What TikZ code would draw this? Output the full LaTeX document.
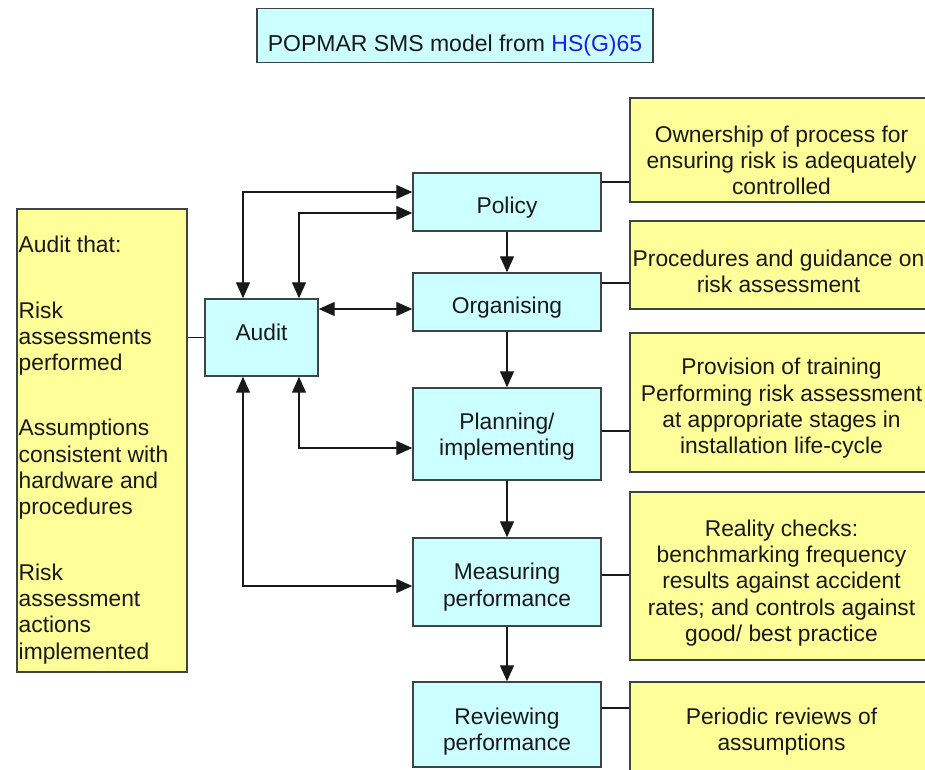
\documentclass[tikz,border=0pt]{standalone}
\usepackage{fontspec}
\setmainfont{Liberation Sans}
\usetikzlibrary{arrows.meta,calc}
\definecolor{cyanfill}{HTML}{CCFFFF}
\definecolor{yelfill}{HTML}{FFFF99}
\definecolor{edge}{RGB}{60,68,68}
\definecolor{hsblue}{RGB}{30,30,230}
\definecolor{ink}{RGB}{25,25,25}
\begin{document}
\begin{tikzpicture}[x=1pt,y=-1pt,
  bluebox/.style={draw=edge,line width=1.4pt,fill=cyanfill,minimum width=188pt,inner sep=0pt},
  yelbox/.style={draw=edge,line width=1.4pt,fill=yelfill,inner sep=0pt},
  txt/.style={font=\fontsize{22.8}{26.3}\selectfont,text=ink,align=center,inner sep=0pt},
  ltxt/.style={font=\fontsize{22.8}{26.3}\selectfont,text=ink,align=left,inner sep=0pt},
  conn/.style={draw=ink,line width=1.2pt},
  arr/.style={conn,-{Triangle[length=16pt,width=14pt]}},
  darr/.style={conn,{Triangle[length=16pt,width=14pt]}-{Triangle[length=16pt,width=14pt]}}]
\useasboundingbox (0,0) rectangle (925,769);
\clip (0,0) rectangle (925,769);
\fill[white] (0,0) rectangle (925,769);

% title
\node[draw=edge,line width=1.4pt,fill=cyanfill,minimum width=396pt,minimum height=54pt,inner sep=0pt] (title) at (455,35.5) {};
\node[txt,font=\fontsize{23}{27}\selectfont] (titleT) at (455,46) {POPMAR SMS model from \textcolor{hsblue}{HS(G)65}};

% blue boxes
\node[bluebox,minimum height=58pt] (policy) at (507,202) {};
\node[bluebox,minimum height=58pt] (organising) at (507,302) {};
\node[bluebox,minimum height=92pt] (planning) at (507,434) {};
\node[bluebox,minimum height=88pt] (measuring) at (507,582) {};
\node[bluebox,minimum height=85pt] (reviewing) at (507,724.5) {};
\node[bluebox,minimum width=113pt,minimum height=77pt] (audit) at (261.5,337.5) {};

\node[txt] (policyT) at (507,208) {Policy};
\node[txt] (organisingT) at (507,308) {Organising};
\node[txt] (planningT) at (507,436.5) {Planning/\\implementing};
\node[txt] (measuringT) at (507,587) {Measuring\\performance};
\node[txt] (reviewingT) at (507,731.5) {Reviewing\\performance};
\node[txt] (auditT) at (261.5,332) {Audit};

% yellow boxes
\node[yelbox,minimum width=170pt,minimum height=463pt] (left) at (102,440.5) {};
\node[yelbox,minimum width=303pt,minimum height=104pt] (r1) at (781.5,150) {};
\node[yelbox,minimum width=303pt,minimum height=88pt] (r2) at (781.5,265) {};
\node[yelbox,minimum width=303pt,minimum height=139pt] (r3) at (781.5,402.5) {};
\node[yelbox,minimum width=303pt,minimum height=168pt] (r4) at (781.5,576) {};
\node[yelbox,minimum width=303pt,minimum height=96pt] (r5) at (781.5,730) {};

\node[ltxt,anchor=west] (leftT) at (18.5,450) {Audit that:\\[39pt]Risk\\assessments\\performed\\[39pt]Assumptions\\consistent with\\hardware and\\procedures\\[39pt]Risk\\assessment\\actions\\implemented};
\node[txt] (r1T) at (781.5,160.5) {Ownership of process for\\ensuring risk is adequately\\controlled};
\node[txt] (r2T) at (778.5,271) {Procedures and guidance on\\risk assessment};
\node[txt] (r3T) at (781.5,408.5) {Provision of training\\Performing risk assessment\\at appropriate stages in\\installation life-cycle};
\node[txt] (r4T) at (781.5,583) {Reality checks:\\benchmarking frequency\\results against accident\\rates; and controls against\\good/ best practice};
\node[txt] (r5T) at (781.5,731.5) {Periodic reviews of\\assumptions};

% plain side connectors
\coordinate (p1) at ($(policy.east)+(0,-20)$);
\draw[conn] (p1) -- (r1.west |- p1);
\coordinate (p2) at ($(organising.east)+(0,-19)$);
\draw[conn] (p2) -- (r2.west |- p2);
\coordinate (p3) at ($(planning.east)+(0,-3)$);
\draw[conn] (p3) -- (r3.west |- p3);
\coordinate (p4) at ($(measuring.east)+(0,-7)$);
\draw[conn] (p4) -- (r4.west |- p4);
\coordinate (p5) at ($(reviewing.east)+(0,-16.5)$);
\draw[conn] (p5) -- (r5.west |- p5);
\draw[conn] (left.east |- audit.west) -- (audit.west);

% vertical flow arrows
\draw[arr] (policy.south) -- (organising.north);
\draw[arr] (organising.south) -- (planning.north);
\draw[arr] (planning.south) -- (measuring.north);
\draw[arr] (measuring.south) -- (reviewing.north);

% audit feedback arrows
\coordinate (a1) at ($(policy.west)+(0,-10)$);
\draw[darr] ($(audit.north)+(-18.5,0)$) |- (a1);
\coordinate (a2) at ($(policy.west)+(0,11)$);
\draw[darr] ($(audit.north)+(37.5,0)$) |- (a2);
\coordinate (a3) at ($(organising.west)+(0,7)$);
\draw[darr] (audit.east |- a3) -- (a3);
\coordinate (a4) at ($(planning.west)+(0,14)$);
\draw[darr] ($(audit.south)+(37.5,0)$) |- (a4);
\coordinate (a5) at ($(measuring.west)+(0,4)$);
\draw[darr] ($(audit.south)+(-18.5,0)$) |- (a5);
\end{tikzpicture}
\end{document}
